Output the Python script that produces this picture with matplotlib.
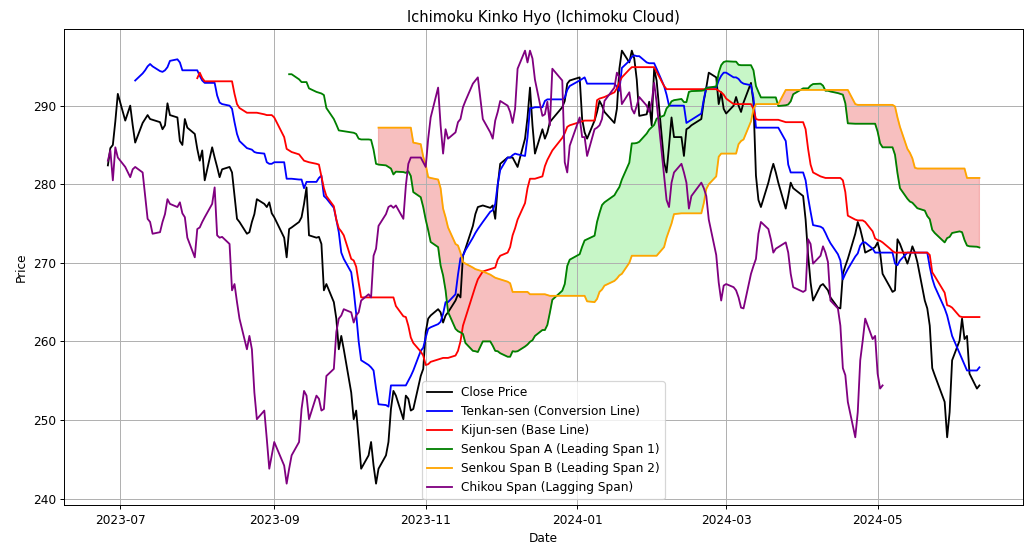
import numpy as np
import pandas as pd
import matplotlib
matplotlib.use("Agg")
import matplotlib.pyplot as plt

# trading days (NYSE holidays removed)
holidays = ["2023-07-04", "2023-09-04", "2023-11-23", "2023-12-25", "2024-01-01",
            "2024-01-15", "2024-02-19", "2024-03-29", "2024-05-27"]
dates = pd.bdate_range("2023-06-26", "2024-06-11", freq="C", holidays=holidays)

close = [
    282.4, 284.6, 285.0, 288.0, 291.5, 288.1, 290.0, 287.5, 285.3, 287.8,
    288.3, 288.8, 288.3, 288.2, 287.9, 287.0, 287.5, 290.3, 288.8, 288.5,
    285.5, 285.0, 288.3, 287.2, 286.4, 284.5, 283.0, 284.3, 280.5, 284.7,
    283.4, 282.2, 280.9, 281.9, 282.2, 281.5, 278.5, 275.6, 275.2, 273.7,
    273.9, 275.2, 276.2, 278.1, 277.5, 277.1, 277.7, 276.3, 275.8, 273.2,
    270.7, 274.3, 274.5, 275.2, 275.8, 277.5, 279.6, 273.5, 273.2, 273.3,
    272.4, 266.5, 267.3, 265.0, 262.9, 259.0, 260.7, 259.0, 253.5, 250.1,
    251.2, 247.6, 243.8, 245.5, 247.2, 244.2, 241.9, 243.8, 245.5, 247.2,
    251.4, 253.7, 253.1, 250.1, 253.1, 252.7, 251.2, 251.4, 255.6, 256.5,
    261.2, 262.9, 263.3, 264.1, 263.7, 262.4, 263.3, 263.7, 265.2, 266.0,
    265.6, 270.9, 271.8, 274.7, 276.2, 277.1, 277.3, 277.0, 277.3, 275.6,
    279.8, 282.6, 283.4, 283.4, 283.4, 282.8, 282.2, 285.8, 288.5, 292.3,
    287.5, 283.9, 287.0, 285.8, 286.6, 287.9, 288.3, 289.8, 290.6, 292.8,
    293.2, 293.6, 288.3, 286.6, 285.8, 288.1, 289.2, 290.6, 290.0, 289.2,
    287.8, 289.6, 294.7, 297.0, 295.5, 297.0, 296.0, 293.3, 288.7, 288.9,
    290.5, 287.5, 294.7, 293.2, 282.8, 281.5, 284.9, 288.5, 286.0, 286.0,
    283.6, 287.0, 287.2, 287.5, 288.3, 290.6, 292.3, 294.2, 293.6, 290.2,
    291.7, 289.6, 289.0, 290.0, 291.1, 290.0, 289.2, 290.4, 292.9, 290.4,
    281.1, 278.0, 277.1, 280.2, 281.5, 282.6, 281.5, 280.2, 276.9, 278.5,
    280.2, 279.5, 278.5, 275.5, 271.0, 267.5, 265.2, 267.1, 267.3, 266.9,
    266.5, 265.6, 264.3, 264.2, 268.6, 269.6, 270.5, 273.7, 275.2, 274.3,
    273.0, 271.3, 271.8, 272.0, 272.6, 271.3, 268.6, 266.9, 266.3, 266.5,
    273.0, 272.4, 269.9, 270.9, 272.1, 271.3, 270.1, 265.2, 264.2, 262.0,
    256.6, 255.7, 252.3, 247.8, 251.0, 257.6, 260.1, 262.9, 260.3, 260.7,
    255.9, 254.0, 254.4,
]

# conversion line, from the 9th trading day on
tenkan = [
    293.2, 294.1, 294.5, 295.0, 295.3, 295.0, 294.4, 294.3, 294.5, 294.9,
    295.7, 295.9, 295.5, 294.5, 294.5, 294.5, 294.5, 294.5, 293.8, 293.2,
    292.9, 292.9, 292.9, 291.3, 290.4, 290.2, 290.0, 289.6, 287.9, 286.4,
    285.5, 284.6, 284.5, 284.4, 284.1, 284.0, 283.9, 282.8, 282.6, 282.6,
    282.8, 282.8, 280.7, 280.7, 280.7, 280.6, 280.6, 279.5, 280.3, 280.3,
    280.3, 280.8, 281.1, 278.5, 278.2, 277.0, 275.5, 273.9, 271.3, 270.5,
    268.8, 266.5, 263.5, 260.0, 257.6, 257.0, 256.7, 256.3, 254.0, 252.0,
    251.9, 251.7, 254.4, 254.4, 254.4, 254.4, 254.4, 255.0, 255.6, 256.3,
    258.8, 259.2, 260.5, 261.6, 261.8, 262.2, 262.5, 263.5, 265.0, 265.0,
    266.0, 268.5, 270.6, 270.9, 271.6, 273.2, 273.8, 274.3, 275.2, 276.5,
    276.7, 277.5, 280.0, 281.8, 283.4, 283.4, 283.7, 283.9, 283.8, 283.6,
    286.0, 289.7, 289.7, 289.8, 289.8, 290.6, 290.8, 290.8, 290.8, 290.8,
    291.0, 292.0, 292.5, 293.2, 293.4, 293.6, 292.8, 292.8, 292.8, 292.8,
    292.8, 292.8, 292.8, 292.4, 291.9, 294.8, 295.7, 296.2, 296.4, 296.3,
    296.3, 295.5, 295.4, 295.4, 295.4, 294.7, 292.5, 291.4, 290.0, 290.0,
    290.0, 290.0, 290.0, 287.8, 288.0, 288.2, 289.0, 290.8, 292.3, 292.3,
    292.3, 293.2, 293.8, 294.2, 294.2, 293.6, 293.6, 293.4, 293.0, 292.8,
    292.6, 291.0, 287.2, 287.2, 287.2, 287.2, 287.2, 287.2, 287.2, 287.2,
    285.5, 282.5, 281.5, 281.5, 281.5, 280.5, 278.3, 276.5, 274.8, 274.6,
    274.4, 273.8, 273.1, 272.5, 271.1, 270.3, 267.9, 268.6, 269.2, 270.8,
    271.2, 272.2, 272.6, 272.6, 271.8, 271.3, 271.3, 271.3, 271.3, 271.3,
    271.3, 269.9, 269.7, 270.3, 271.3, 271.3, 271.3, 271.3, 271.3, 271.3,
    271.3, 269.5, 268.0, 267.0, 264.2, 263.3, 262.0, 260.7, 258.5, 257.8,
    257.0, 256.3, 256.3, 256.3, 256.7,
]

# base line, from the 26th trading day on
kijun = [
    293.5, 294.2, 293.5, 293.1, 293.1, 293.1, 293.1, 293.1, 293.1, 293.1,
    293.1, 291.5, 290.2, 289.7, 289.1, 289.1, 289.1, 289.1, 289.1, 288.9,
    288.8, 288.8, 288.8, 288.5, 286.0, 284.5, 284.3, 284.1, 283.8, 283.4,
    283.0, 282.9, 282.8, 282.6, 282.5, 281.0, 279.5, 278.5, 277.2, 275.5,
    274.4, 274.0, 273.5, 270.5, 270.3, 269.5, 267.5, 265.6, 265.6, 265.6,
    265.6, 265.6, 265.6, 265.6, 265.6, 265.6, 265.6, 264.5, 263.2, 263.1,
    262.0, 260.5, 259.8, 258.7, 258.2, 257.0, 257.1, 257.4, 257.7, 257.8,
    257.9, 257.9, 257.9, 258.2, 258.8, 260.0, 262.0, 263.0, 266.0, 267.0,
    267.9, 268.9, 269.2, 269.3, 269.4, 270.4, 270.9, 271.3, 272.0, 273.5,
    274.4, 275.5, 277.6, 279.5, 280.7, 280.7, 280.7, 281.0, 282.3, 283.1,
    283.7, 284.3, 285.9, 286.5, 287.3, 287.5, 287.9, 288.0, 288.1, 288.1,
    288.1, 290.7, 290.9, 291.0, 291.1, 291.7, 292.2, 293.0, 293.6, 294.6,
    294.9, 294.9, 294.9, 294.9, 294.9, 294.9, 294.9, 294.9, 294.3, 292.5,
    292.1, 292.1, 292.1, 292.1, 292.1, 292.1, 292.1, 292.1, 292.1, 292.1,
    292.1, 292.1, 292.1, 292.1, 291.9, 291.7, 291.4, 290.9, 290.2, 290.2,
    290.2, 290.2, 290.2, 290.2, 289.6, 288.3, 288.2, 288.2, 288.2, 288.2,
    288.2, 288.2, 288.2, 287.9, 287.9, 287.9, 287.9, 287.9, 287.0, 284.5,
    282.5, 281.5, 281.0, 280.9, 280.8, 280.8, 280.8, 280.8, 280.8, 280.5,
    279.0, 276.0, 275.5, 275.4, 275.4, 275.4, 275.2, 274.0, 273.1, 272.9,
    272.8, 272.6, 271.8, 271.5, 271.3, 271.3, 271.3, 271.3, 271.3, 271.3,
    271.3, 271.3, 271.3, 271.3, 271.0, 268.8, 268.3, 266.2, 264.6, 264.5,
    264.3, 263.2, 263.1, 263.1, 263.1, 263.1, 263.1, 263.1,
]

# leading span 2 as plotted (already shifted forward)
senkou_b = [
    287.2, 287.2, 287.2, 287.2, 287.2, 287.2, 287.2, 287.2, 287.2, 287.2,
    285.3, 285.1, 283.5, 282.5, 280.9, 280.8, 280.6, 279.5, 276.9, 275.8,
    274.5, 272.4, 272.2, 271.3, 270.1, 269.9, 269.4, 269.2, 269.1, 268.9,
    268.5, 268.3, 268.1, 268.0, 267.9, 267.6, 267.4, 266.3, 266.3, 266.3,
    266.3, 266.3, 266.0, 266.0, 266.0, 266.0, 266.0, 265.9, 265.8, 265.8,
    265.8, 265.8, 265.8, 265.8, 265.8, 265.8, 265.8, 265.1, 265.0, 265.4,
    266.3, 266.6, 267.1, 267.7, 268.0, 268.4, 268.6, 270.0, 270.9, 270.9,
    270.9, 270.9, 270.9, 270.9, 270.9, 270.9, 270.9, 272.0, 273.2, 274.1,
    275.0, 276.2, 276.3, 276.3, 276.3, 276.3, 276.3, 276.3, 277.6, 279.4,
    280.0, 281.0, 283.5, 283.9, 283.9, 283.9, 283.9, 283.9, 285.1, 285.5,
    285.7, 288.0, 289.5, 290.2, 290.2, 290.2, 290.2, 290.2, 290.2, 290.2,
    290.2, 292.0, 292.0, 292.0, 292.0, 292.0, 292.0, 292.0, 292.0, 292.0,
    292.0, 292.0, 292.0, 292.0, 292.0, 292.0, 292.0, 292.0, 292.0, 292.0,
    290.2, 290.1, 290.1, 290.1, 290.1, 290.1, 290.1, 290.1, 290.1, 290.1,
    290.1, 290.1, 289.9, 288.5, 287.3, 284.5, 284.0, 283.3, 282.1, 282.0,
    282.0, 282.0, 282.0, 282.0, 282.0, 282.0, 282.0, 282.0, 282.0, 282.0,
    282.0, 282.0, 280.8, 280.8, 280.8, 280.8,
]


def pad(vals):
    return [np.nan] * (len(dates) - len(vals)) + list(vals)


df = pd.DataFrame(
    {"close": close, "tenkan": pad(tenkan), "kijun": pad(kijun), "senkou_b": pad(senkou_b)},
    index=dates,
)
df["senkou_a"] = ((df["tenkan"] + df["kijun"]) / 2).shift(26)
df["chikou"] = df["close"].shift(-26)

# %% plot
dpi = 87.6
fig, ax = plt.subplots(figsize=(1024 / dpi, 543 / dpi), dpi=dpi)
fig.subplots_adjust(left=64.3 / 1024, right=1023 / 1024, top=1 - 29 / 543, bottom=1 - 505.3 / 543)
ax.plot(df.index, df["close"], label="Close Price", color="black")
ax.plot(df.index, df["tenkan"], label="Tenkan-sen (Conversion Line)", color="blue")
ax.plot(df.index, df["kijun"], label="Kijun-sen (Base Line)", color="red")
ax.plot(df.index, df["senkou_a"], label="Senkou Span A (Leading Span 1)", color="green")
ax.plot(df.index, df["senkou_b"], label="Senkou Span B (Leading Span 2)", color="orange")
ax.plot(df.index, df["chikou"], label="Chikou Span (Lagging Span)", color="purple")

ax.fill_between(df.index, df["senkou_a"], df["senkou_b"],
                where=df["senkou_a"] >= df["senkou_b"], interpolate=True,
                color="lightgreen", alpha=0.5)
ax.fill_between(df.index, df["senkou_a"], df["senkou_b"],
                where=df["senkou_a"] < df["senkou_b"], interpolate=True,
                color="lightcoral", alpha=0.5)

ax.set_title("Ichimoku Kinko Hyo (Ichimoku Cloud)")
ax.set_xlabel("Date")
ax.set_ylabel("Price")
ax.legend(loc="lower center")
ax.grid(True)
fig.savefig("out.png", dpi=dpi)
